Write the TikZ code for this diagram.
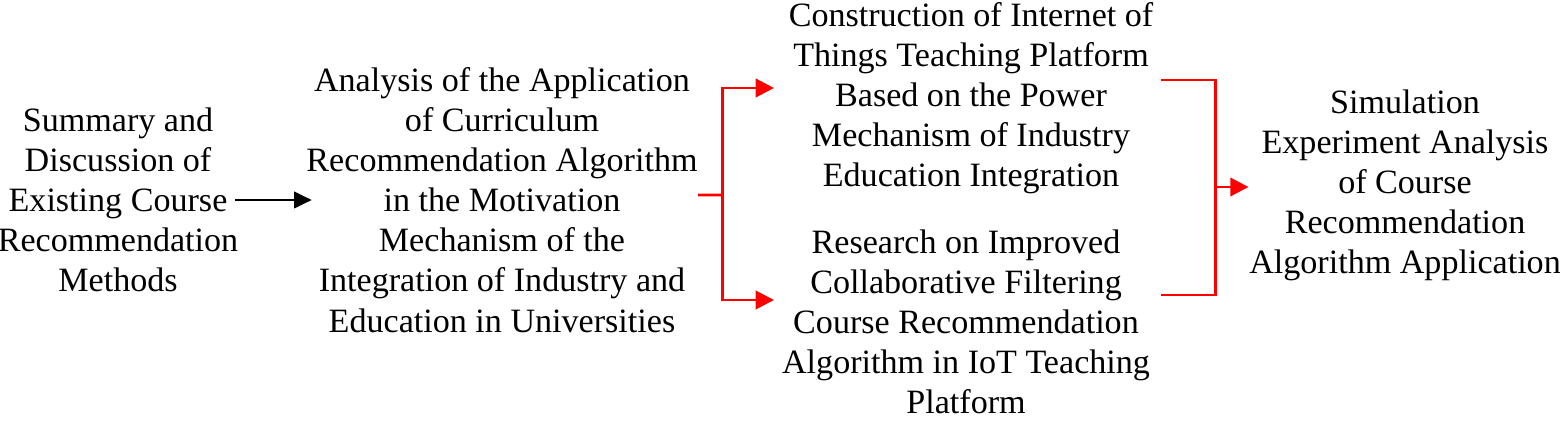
\documentclass[tikz,border=0pt]{standalone}
\usepackage{fontspec}
\setmainfont{Liberation Serif}
\usetikzlibrary{arrows.meta}
\begin{document}
\begin{tikzpicture}[x = 1cm, y = -1cm, font = \fontsize{9.7}{11.4}\selectfont,
    every node/.style = {align = center, inner sep = 0pt},
    link/.style = {line width = 0.85pt, -{Triangle[length = 5pt, width = 4.6pt]}},
    redlink/.style = {line width = 0.85pt, red, -{Triangle[length = 5.2pt, width = 5.2pt]}}]
    \useasboundingbox (0, 0) rectangle (15.6, 4.22);

    \node (summary) at (1.18, 2.0) {Summary and\\Discussion of\\Existing Course\\Recommendation\\Methods};
    \node (analysis) at (5.02, 2.0) {Analysis of the Application\\of Curriculum\\Recommendation Algorithm\\in the Motivation\\Mechanism of the\\Integration of Industry and\\Education in Universities};
    \node (platform) at (9.71, 0.98) {Construction of Internet of\\Things Teaching Platform\\Based on the Power\\Mechanism of Industry\\Education Integration};
    \node (filtering) at (9.66, 3.22) {Research on Improved\\Collaborative Filtering\\Course Recommendation\\Algorithm in IoT Teaching\\Platform};
    \node (simulation) at (14.05, 1.85) {Simulation\\Experiment Analysis\\of Course\\Recommendation\\Algorithm Application};

    % split after the analysis
    \coordinate (fork) at (7.22, 1.95);
    \coordinate (forktop) at (7.74, 0.88);
    \coordinate (forkbottom) at (7.74, 3.0);
    % join before the simulation
    \coordinate (jointop) at (12.15, 0.80);
    \coordinate (joinbottom) at (12.15, 2.95);
    \coordinate (join) at (12.15, 1.87);

    \draw [link] ([xshift = -0.04cm]summary.east) -- ([xshift = 0.06cm]analysis.west);
    \draw [red, line width = 0.85pt] ([yshift = 0.05cm]analysis.east) -- (fork);
    \draw [redlink] (fork) |- (forktop);
    \draw [redlink] (fork) |- (forkbottom);
    \draw [red, line width = 0.85pt] ([xshift = 0.07cm]platform.east |- jointop) -- (jointop) -- (joinbottom) -- ([xshift = 0.1cm]filtering.east |- joinbottom);
    \draw [redlink] (join) -- (simulation.west |- join);
\end{tikzpicture}
\end{document}
